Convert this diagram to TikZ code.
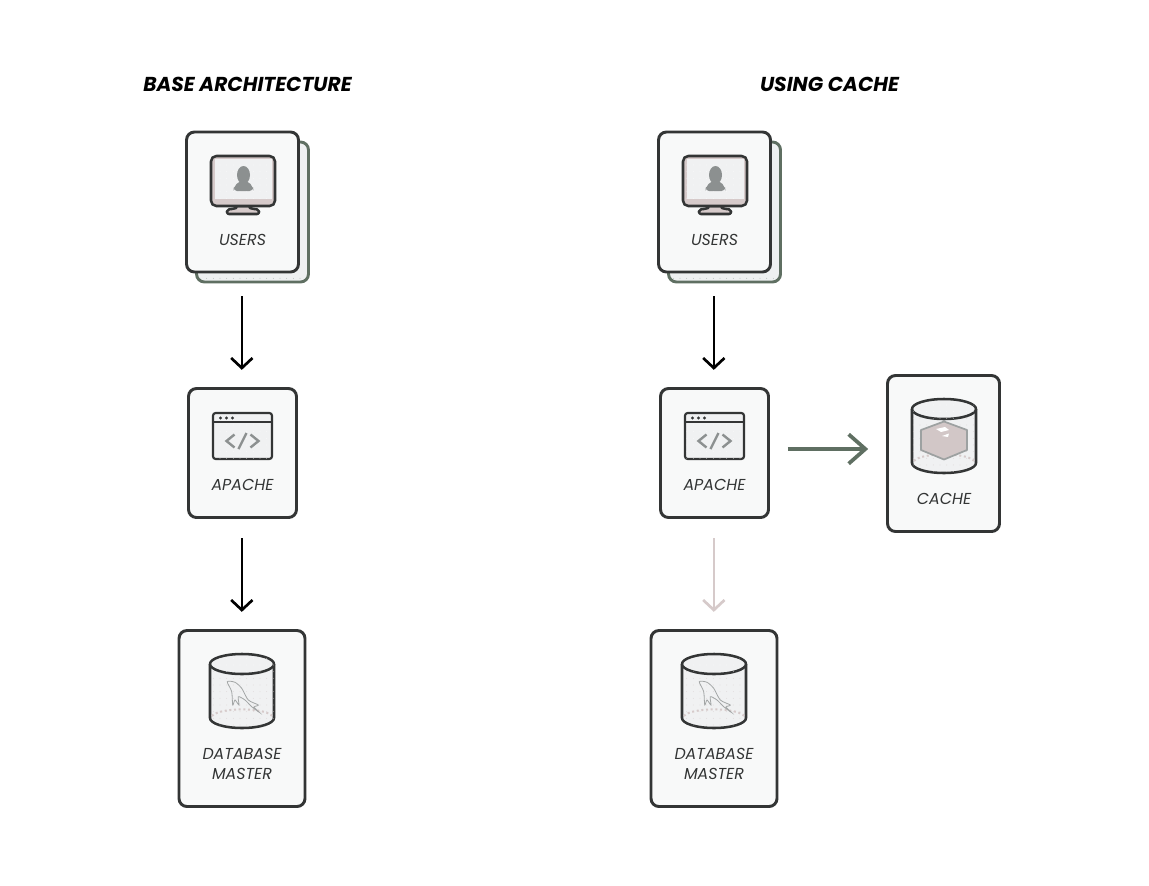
\documentclass[tikz,border=0pt]{standalone}
\usepackage{fontspec}
\setmainfont{Poppins}
\usetikzlibrary{arrows.meta}
\usetikzlibrary{patterns.meta}
\definecolor{ink}{HTML}{333535}
\definecolor{paper}{HTML}{F8F9F9}
\definecolor{backpaper}{HTML}{EEF0F1}
\definecolor{sage}{HTML}{5F6F62}
\definecolor{rose}{HTML}{D6CACA}
\definecolor{stone}{HTML}{8C9090}
\definecolor{glass}{HTML}{F0F1F2}
\tikzset{
  card/.style 2 args={draw=ink,line width=2.2pt,rounded corners=6pt,fill=paper,
    minimum width=#1*.75pt,minimum height=#2*.75pt,inner sep=0,outer sep=0},
  backcard/.style={card={112}{140},draw=sage,fill=backpaper},
  lbl/.style={font=\itshape\fontsize{11.9}{15}\selectfont,text=ink,inner sep=0,align=center},
  heading/.style={font=\bfseries\itshape\fontsize{15.1}{18}\selectfont,text=black,inner sep=0},
  flow/.style={-{Straight Barb[length=7.5pt,width=16pt,line width=2pt]},line width=2pt},
  sideflow/.style={-{Straight Barb[length=12.5pt,width=22pt,line width=2.8pt]},line width=2.8pt,draw=sage},
  iconline/.style={draw=ink,line width=1.9pt,line join=round},
  speckle/.style={pattern={Dots[distance=5pt,radius=.3pt]},pattern color=#1}
}
\newcommand{\monitoricon}[1]{
  \begin{scope}[shift={(#1,0)}]
    \draw[iconline,fill=rose,rounded corners=1.5pt] (-7,206) .. controls (-7,208) and (-10,209) .. (-16,209.5) -- (-16,214) -- (16,214) -- (16,209.5) .. controls (10,209) and (7,208) .. (7,206) -- cycle;
    \draw[iconline,fill=rose,rounded corners=4pt] (-32,156) rectangle (32,206);
    \fill[glass] (-28.5,159) rectangle (28.5,199);
    \fill[speckle=white] (-28.5,159) rectangle (28.5,199);
    \fill[stone] (.5,175) ellipse (6.5 and 9);
    \fill[stone,rounded corners=3pt] (-4,181) -- (5,181) -- (10,187) -- (10.5,191) -- (-10,191) -- (-9,187) -- cycle;
  \end{scope}
}
\newcommand{\windowicon}[1]{
  \begin{scope}[shift={(#1,0)}]
    \draw[draw=ink,line width=1.6pt,fill=glass,rounded corners=2pt] (-29.5,413) rectangle (29.5,459);
    \fill[speckle=white] (-28,423) rectangle (28,458);
    \draw[ink,line width=1.1pt] (-29.5,422) -- (29.5,422);
    \foreach \dotx in {-22,-16,-10}
      \fill[ink] (\dotx,418) circle (1.6);
    \draw[stone,line width=1.8pt] (-8,434.5) -- (-16,441) -- (-8,447.5);
    \draw[stone,line width=1.8pt] (-4,449) -- (4,433);
    \draw[stone,line width=1.8pt] (8,434.5) -- (16,441) -- (8,447.5);
  \end{scope}
}
% cylinder, #1 is the middle, #2 the middle of the top ellipse
\newcommand{\cylindericon}[2]{
  \begin{scope}[shift={(#1,#2)}]
    \draw[iconline,fill=glass] (-32,0) -- (-32,54) arc[start angle=180,end angle=0,x radius=32,y radius=10] -- (32,0);
    \fill[speckle=rose] (-32,0) -- (-32,54) arc[start angle=180,end angle=0,x radius=32,y radius=10] -- (32,0) -- cycle;
    \draw[rose,line width=1.5pt,dotted] (-30,52) arc[start angle=190,end angle=350,x radius=30.5,y radius=8];
  }
\newcommand{\cylindertop}{
    \draw[iconline,fill=glass] (0,0) ellipse (32 and 10);
    \fill[speckle=white] (0,0) ellipse (32 and 10);
  \end{scope}
}
\newcommand{\dolphin}{
    \draw[stone!80,line width=.6pt] plot[smooth cycle,tension=.45] coordinates {(-14.7,17.7) (-7,18.3) (-.3,24.3) (6.3,36) (16.3,41) (12,43) (17.3,48.3) (9.7,42.7) (3,36) (-3.7,32.7) (-3,41) (-7,36) (-9.3,41) (-10.3,27.7)};
}
\newcommand{\sugarcube}{
    \draw[draw=stone!85,fill=rose!95!stone,line width=1.3pt,line join=round] (0,12.5) -- (23,21) -- (23,41) -- (0,50.5) -- (-23,41) -- (-23,21) -- cycle;
    \fill[white] (-8,20) -- (1,18) -- (5,21) -- (-3,23) -- cycle;
    \fill[white] (-2,27) -- (5,24.5) -- (4,28) -- cycle;
}

\begin{document}
\begin{tikzpicture}[x=.75pt,y=-.75pt]
    \useasboundingbox (0,0) rectangle (1149,885);
    \fill[white] (0,0) rectangle (1149,885);

    \node[heading] (titlebase) at (247.5,84) {BASE ARCHITECTURE};
    \node[heading] (titlecache) at (829.5,84) {USING CACHE};

    \foreach \col/\off/\lowcolor in {a/0/black,b/472/rose}{
      \node[backcard] (back\col) at (252.5+\off,212) {};
      \fill[speckle=sage!70] (200+\off,275.5) rectangle (305+\off,281);
      \node[card={112}{140}] (users\col) at (242.5+\off,202) {};
      \node[card={108}{129}] (apache\col) at (242.5+\off,453) {};
      \node[card={126}{176}] (db\col) at (242+\off,718.5) {};

      \monitoricon{243+\off}
      \windowicon{242.5+\off}
      \cylindericon{242+\off}{664}
      \dolphin
      \cylindertop

      \node[lbl] (usersname\col) at (242.5+\off,240) {USERS};
      \node[lbl] (apachename\col) at (242.5+\off,484.5) {APACHE};
      \node[lbl] (dbname\col) at (242+\off,764) {DATABASE\\MASTER};

      \draw[flow,shorten <=18pt,shorten >=14pt] ([xshift=-.5pt]users\col.south) -- ([xshift=-.5pt]apache\col.north);
      \draw[flow,draw=\lowcolor,shorten <=15.5pt,shorten >=14pt] ([xshift=-.5pt]apache\col.south) -- ([xshift=-.5pt]apache\col.south |- db\col.north);
    }

    \node[card={112}{156}] (cache) at (943.5,453.5) {};
    \cylindericon{944}{409}
    \sugarcube
    \cylindertop
    \node[lbl] (cachename) at (944,499) {CACHE};

    \draw[sideflow,shorten <=14.5pt,shorten >=14.5pt] ([yshift=3pt]apacheb.east) -- ([yshift=3pt]apacheb.east -| cache.west);
\end{tikzpicture}
\end{document}
